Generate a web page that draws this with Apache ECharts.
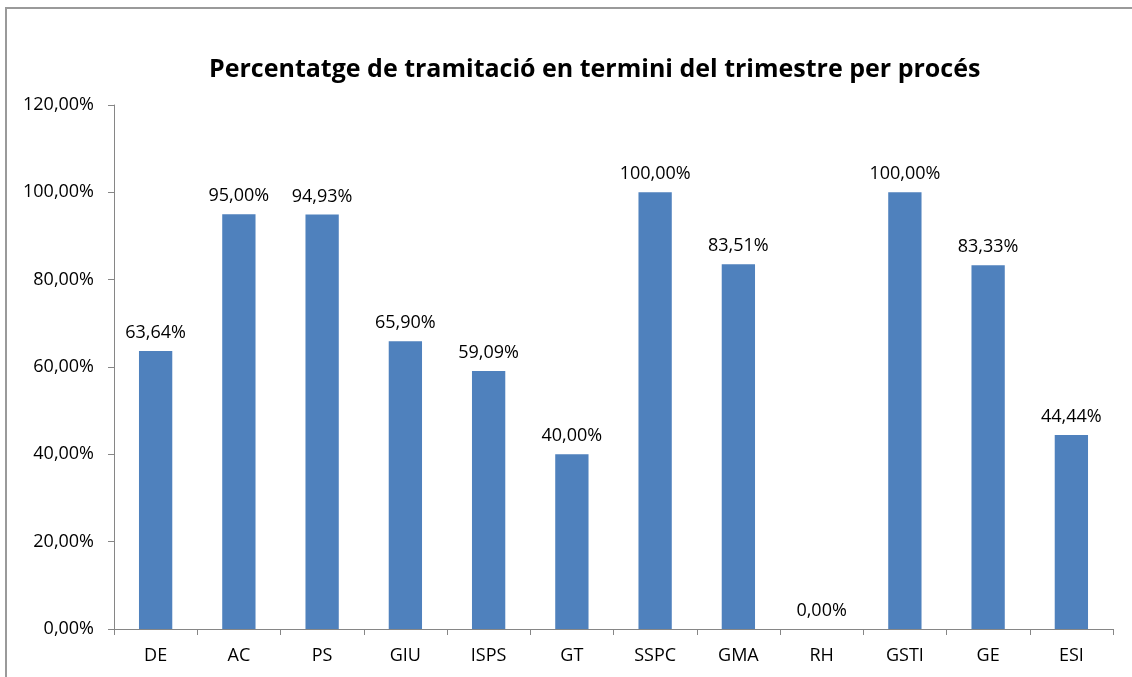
<!DOCTYPE html>
<html>
<head>
<meta charset="utf-8">
<script src="https://cdn.jsdelivr.net/npm/echarts@6/dist/echarts.min.js"></script>
<style>
html,body{margin:0;padding:0;background:#fff;}
#main{width:1132px;height:677px;}
</style>
</head>
<body>
<div id="main"></div>
<script>
var categories = ['DE','AC','PS','GIU','ISPS','GT','SSPC','GMA','RH','GSTI','GE','ESI'];
var values = [63.64, 95.00, 94.93, 65.90, 59.09, 40.00, 100.00, 83.51, 0.00, 100.00, 83.33, 44.44];

function pct(v){ return v.toFixed(2).replace('.', ',') + '%'; }

var myChart = echarts.init(document.getElementById('main'));
var option = {
  animation: false,
  textStyle: { fontFamily: 'Open Sans, Noto Sans, sans-serif' },
  title: {
    text: 'Percentatge de tramitació en termini del trimestre per procés',
    left: 204,
    top: 52,
    textStyle: { fontSize: 25, fontWeight: 'bold', color: '#000', fontFamily: 'Open Sans, Noto Sans, sans-serif' }
  },
  graphic: [{
    type: 'rect',
    shape: { x: 6, y: 8, width: 1140, height: 700 },
    style: { fill: null, stroke: '#9a9a9a', lineWidth: 2 },
    silent: true
  }],
  grid: { left: 114, right: 19, top: 105, bottom: 48 },
  xAxis: {
    type: 'category',
    data: categories,
    axisLine: { lineStyle: { color: '#868686', width: 1 } },
    axisTick: { show: true, length: 6, lineStyle: { color: '#868686' } },
    axisLabel: { color: '#000', fontSize: 18, margin: 18 }
  },
  yAxis: {
    type: 'value',
    min: 0, max: 120, interval: 20,
    axisLine: { show: true, lineStyle: { color: '#868686', width: 1 } },
    axisTick: { show: true, length: 6, lineStyle: { color: '#868686' } },
    splitLine: { show: false },
    axisLabel: { color: '#000', fontSize: 18, margin: 20, formatter: function(v){ return pct(v); } }
  },
  series: [{
    type: 'bar',
    data: values,
    barWidth: '40%',
    itemStyle: { color: '#4F81BD' },
    label: {
      show: true, position: 'top', distance: 9,
      color: '#000', fontSize: 18,
      formatter: function(p){ return pct(p.value); }
    }
  }]
};
myChart.setOption(option);
</script>
</body>
</html>
